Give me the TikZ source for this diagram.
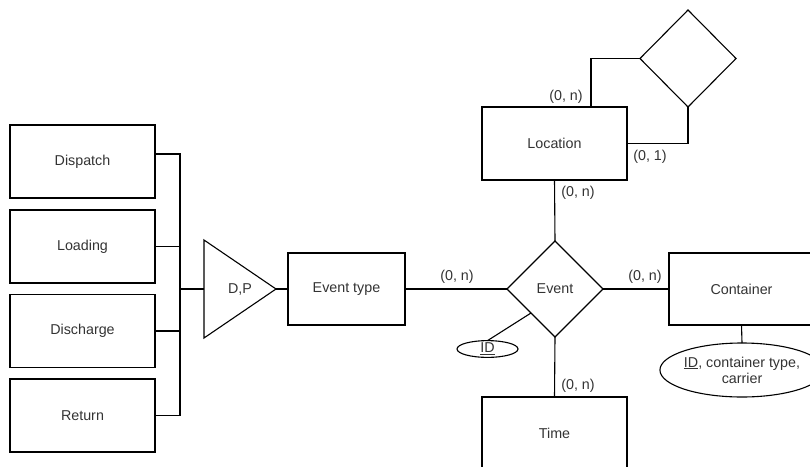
\documentclass[tikz,border=0pt]{standalone}
\usepackage{fontspec}
\setmainfont{Liberation Sans}
\usetikzlibrary{shapes.geometric}
\usetikzlibrary{positioning}

\begin{document}
\begin{tikzpicture}[
    x=1pt, y=-1pt,
    line width=1.1pt,
    font=\fontsize{14.3}{16}\selectfont
]
\tikzset{
    entity/.style = {rectangle, draw=black, align=center, outer sep=0pt,
                     minimum width=145pt, minimum height=73pt, text=black!80},
    relation/.style = {diamond, draw=black, align=center, outer sep=0pt,
                       inner sep=0pt, minimum width=96pt, minimum height=96pt, text=black!80},
    attrib/.style = {ellipse, draw=black, align=center, outer sep=0pt,
                     inner sep=0pt, text=black!80},
    card/.style = {inner sep=0pt, text=black!80},
    link/.style = {-}
}
\useasboundingbox (0,0) rectangle (810,466);
\clip (0,0) rectangle (810,466);

% subtypes
\node[entity] at (82.5,161.5) (dispatch)  {Dispatch};
\node[entity] at (82.5,246.5) (loading)   {Loading};
\node[entity] at (82.5,331.0) (discharge) {Discharge};
\node[entity] at (82.5,415.5) (ret)       {Return};

% specialisation triangle
\coordinate (bus) at (180,289);
\coordinate (dpL) at (204,289);
\coordinate (dpT) at (204,240);
\coordinate (dpB) at (204,338);
\coordinate (dpA) at (276,289);
\draw (dpT) -- (dpA) -- (dpB) -- cycle;
\node[card] at (240,289) (dp) {D,P};

% main entities
\node[entity, minimum width=117pt, minimum height=72pt] at (346.5,289) (evtype) {Event type};
\node[relation] at (555,289) (event) {Event};
\node[entity, minimum height=72pt] at (741.5,289) (container) {Container};
\node[entity] at (554.5,143.5) (location) {Location};
\node[entity, minimum height=72pt] at (554.5,433) (time) {Time};
\node[relation, minimum height=97pt] at (688,58.5) (locrel) {};

% attributes
\node[attrib, minimum width=61pt, minimum height=16pt] at (487.5,349) (evid) {\underline{ID}};
\node[attrib, minimum width=148pt, minimum height=54pt] at (742,370) (contattr)
    {\underline{ID}, container type,\\carrier};

% connectors
\draw[link] ([yshift=7.5pt]dispatch.east) -| (bus) |- (ret.east);
\draw[link] (loading.east) -- (loading.east -| bus);
\draw[link] (discharge.east) -- (discharge.east -| bus);
\draw[link] (bus) -- (dpL);
\draw[link] (dpA) -- (evtype.west);
\draw[link] (evtype.east) -- (event.west);
\draw[link] (event.east) -- (container.west);
\draw[link] (location.south) -- (event.north);
\draw[link] (event.south) -- (time.north);
\draw[link] (evid.north) -- (event.south west);
\draw[link] (container.south) -- (contattr.north);
\draw[link] (locrel.west) -| ([xshift=36.5pt]location.north);
\draw[link] (locrel.south) |- (location.east);

% cardinalities
\node[card] at (457,277) (cEvtype) {(0, n)};
\node[card] at (645,277) (cCont)   {(0, n)};
\node[card] at (578,193) (cLocB)   {(0, n)};
\node[card] at (578,386) (cTime)   {(0, n)};
\node[card] at (566,97)  (cLocT)   {(0, n)};
\node[card] at (650,157) (cLocR)   {(0, 1)};
\end{tikzpicture}
\end{document}
